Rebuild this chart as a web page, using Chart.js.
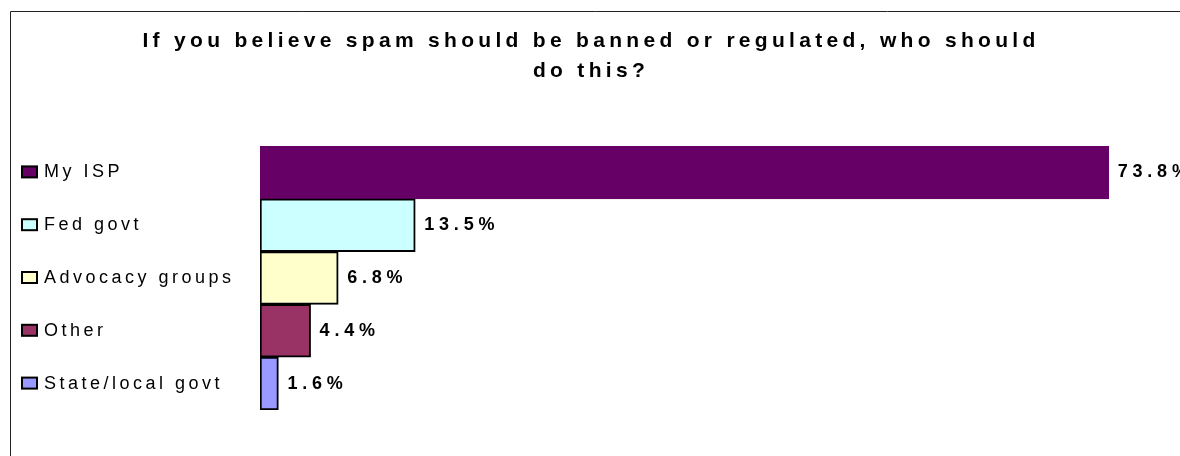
<!DOCTYPE html>
<html>
<head>
<meta charset="utf-8">
<script src="https://cdn.jsdelivr.net/npm/chart.js@4/dist/chart.umd.min.js"></script>
<style>
  html, body { margin: 0; padding: 0; background: #fff; }
  #wrap { width: 1180px; height: 456px; }
</style>
</head>
<body>
<div id="wrap"><canvas id="spamChart" width="1180" height="456"></canvas></div>
<script>
// chart values
const categories = ['My ISP', 'Fed govt', 'Advocacy groups', 'Other', 'State/local govt'];
const shares = [73.8, 13.5, 6.8, 4.4, 1.6];
const barColors = ['#660066', '#CCFFFF', '#FFFFCC', '#993366', '#9999FF'];
const edgeColors = ['#660066', '#000000', '#000000', '#000000', '#000000'];
const titleLines = ['If you believe spam should be banned or regulated, who should', 'do this?'];

const FONT = '"Liberation Sans", Arial, sans-serif';

// frame, title, little legend squares and the value labels
const decorations = {
  id: 'decorations',
  beforeDraw(chart) {
    chart.ctx.letterSpacing = '3.5px';
  },
  afterDatasetsDraw(chart) {
    const ctx = chart.ctx;
    const yScale = chart.scales.y;
    const meta = chart.getDatasetMeta(0);
    ctx.save();

    // outer frame
    ctx.strokeStyle = '#222';
    ctx.lineWidth = 1;
    ctx.beginPath();
    ctx.moveTo(10.5, chart.height);
    ctx.lineTo(10.5, 11.5);
    ctx.lineTo(chart.width, 11.5);
    ctx.stroke();

    // title
    ctx.fillStyle = '#000';
    ctx.font = 'bold 21px ' + FONT;
    ctx.letterSpacing = '4.3px';
    ctx.textAlign = 'center';
    ctx.textBaseline = 'alphabetic';
    titleLines.forEach((line, i) => {
      ctx.fillText(line, 591, 47 + i * 30);
    });

    // legend squares next to the category labels
    ctx.lineWidth = 2;
    ctx.strokeStyle = '#000';
    categories.forEach((c, i) => {
      const y = yScale.getPixelForValue(i);
      ctx.fillStyle = barColors[i];
      ctx.fillRect(yScale.left - 22, y - 6, 15, 11);
      ctx.strokeRect(yScale.left - 22, y - 6, 15, 11);
    });

    // value labels
    ctx.fillStyle = '#000';
    ctx.font = 'bold 18px ' + FONT;
    ctx.letterSpacing = '4.8px';
    ctx.textAlign = 'left';
    ctx.textBaseline = 'middle';
    meta.data.forEach((bar, i) => {
      ctx.fillText(shares[i].toFixed(1) + '%', bar.x + 9, bar.y);
    });
    ctx.restore();
  }
};

new Chart(document.getElementById('spamChart'), {
  type: 'bar',
  data: {
    labels: categories,
    datasets: [{
      data: shares,
      backgroundColor: barColors,
      borderColor: edgeColors,
      borderWidth: 2,
      borderSkipped: false,
      barPercentage: 1,
      categoryPercentage: 1
    }]
  },
  options: {
    indexAxis: 'y',
    responsive: false,
    animation: false,
    layout: { padding: { top: 146, bottom: 46, left: 44, right: 0 } },
    plugins: {
      legend: { display: false },
      title: { display: false },
      tooltip: { enabled: false }
    },
    scales: {
      x: { display: false, min: 0, max: 80 },
      y: {
        grid: { display: false },
        border: { display: false },
        ticks: {
          crossAlign: 'far',
          color: '#000',
          font: { family: FONT, size: 18 },
          padding: 0
        },
        afterFit(scale) { scale.width = 216; }
      }
    }
  },
  plugins: [decorations]
});
</script>
</body>
</html>
